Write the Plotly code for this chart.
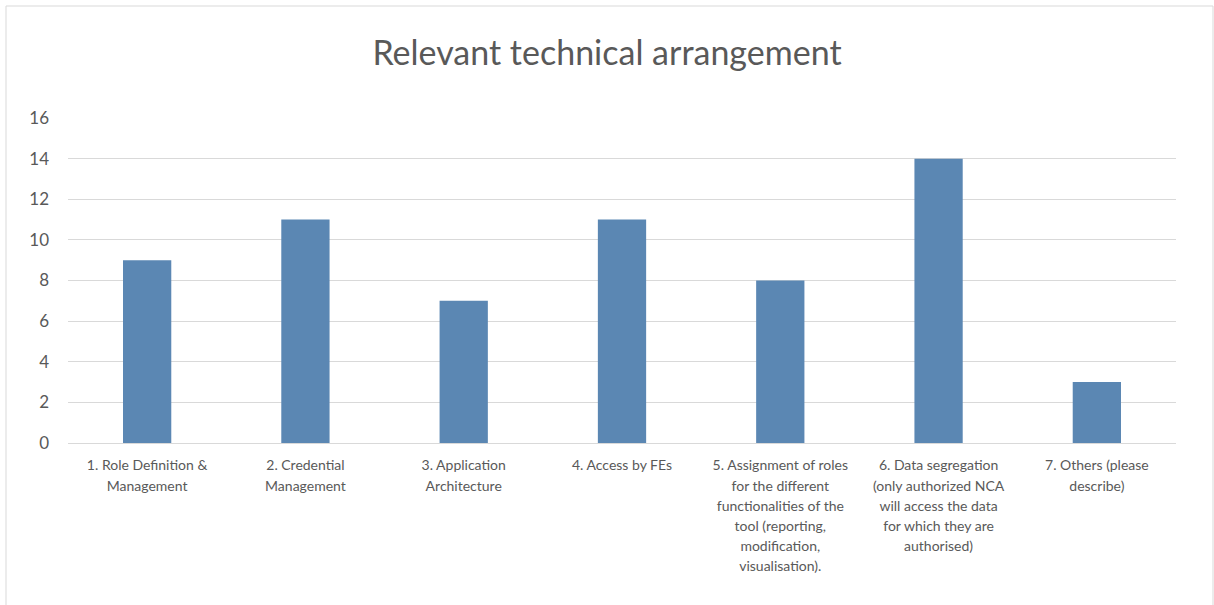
import plotly.graph_objects as go

category_lines = [
    ["1. Role Definition &", "Management"],
    ["2. Credential", "Management"],
    ["3. Application", "Architecture"],
    ["4. Access by FEs"],
    ["5. Assignment of roles", "for the different", "functionalities of the",
     "tool (reporting,", "modification,", "visualisation)."],
    ["6. Data segregation", "(only authorized NCA", "will access the data",
     "for which they are", "authorised)"],
    ["7. Others (please", "describe)"],
]
values = [9, 11, 7, 11, 8, 14, 3]
y_ticks = [0, 2, 4, 6, 8, 10, 12, 14, 16]
title_text = "Relevant technical arrangement"

categories = [
    "<br>".join('<span style="font-size:14px">%s</span>' % s for s in lines)
    for lines in category_lines
]

W, H = 1214, 605
L, R, T, B = 68, 38, 118, 162
pw, ph = W - L - R, H - T - B

fig = go.Figure(
    go.Bar(
        x=list(range(len(categories))),
        y=values,
        marker=dict(color="#5b87b3", line=dict(width=0)),
        width=0.305,
        hoverinfo="y",
    )
)

def px_to_paper_x(px):
    return (px - L) / pw

def px_to_paper_y(py):
    return (H - B - py) / ph

fig.update_layout(
    width=W,
    height=H,
    margin=dict(l=L, r=R, t=T, b=B),
    paper_bgcolor="white",
    plot_bgcolor="white",
    showlegend=False,
    title=dict(
        text=title_text,
        x=0.5,
        xanchor="center",
        y=1 - 53 / H,
        yanchor="middle",
        yref="container",
        font=dict(family="Lato", size=34, color="#595959"),
    ),
    xaxis=dict(
        range=[-0.5, len(categories) - 0.5],
        tickmode="array",
        tickvals=list(range(len(categories))),
        ticktext=categories,
        tickfont=dict(family="Lato", size=15.4, color="#595959"),
        showgrid=False,
        showline=True,
        linecolor="#d9d9d9",
        linewidth=1,
        ticks="",
        ticklabelstandoff=8,
        zeroline=False,
        fixedrange=True,
    ),
    yaxis=dict(
        range=[0, 16],
        tickmode="array",
        tickvals=y_ticks,
        tickfont=dict(family="Lato", size=17, color="#595959"),
        showgrid=True,
        gridcolor="#d9d9d9",
        gridwidth=1,
        zeroline=False,
        showline=False,
        ticks="",
        ticklabelstandoff=18,
        fixedrange=True,
    ),
    shapes=[
        dict(type="line", xref="paper", yref="paper",
             x0=px_to_paper_x(6), x1=px_to_paper_x(1213),
             y0=px_to_paper_y(6), y1=px_to_paper_y(6),
             line=dict(color="#d9d9d9", width=1)),
        dict(type="line", xref="paper", yref="paper",
             x0=px_to_paper_x(6), x1=px_to_paper_x(6),
             y0=px_to_paper_y(6), y1=px_to_paper_y(605),
             line=dict(color="#d9d9d9", width=1)),
        dict(type="line", xref="paper", yref="paper",
             x0=px_to_paper_x(1213), x1=px_to_paper_x(1213),
             y0=px_to_paper_y(6), y1=px_to_paper_y(605),
             line=dict(color="#d9d9d9", width=1)),
    ],
)

fig.write_html(
    "out.html",
    config={"displayModeBar": False},
    post_script="document.body.style.margin='0';document.body.style.overflow='hidden';",
)
